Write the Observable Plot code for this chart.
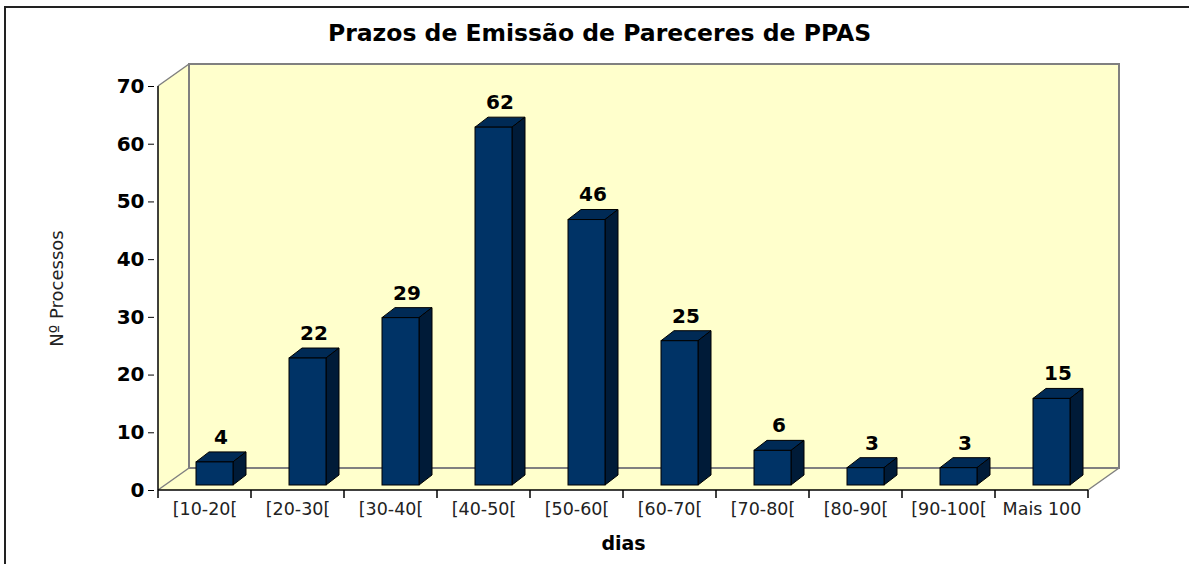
<!DOCTYPE html>
<html>
<head>
<meta charset="utf-8">
<script src="https://cdn.jsdelivr.net/npm/d3@7"></script>
<script src="https://cdn.jsdelivr.net/npm/@observablehq/plot@0.6"></script>
<style>
  html, body { margin: 0; padding: 0; background: #ffffff; }
  #chart svg { display: block; }
</style>
</head>
<body>
<div id="chart"></div>
<script>
const title = "Prazos de Emissão de Pareceres de PPAS";
const yLabel = "Nº Processos";
const xLabel = "dias";
const categories = ["[10-20[", "[20-30[", "[30-40[", "[40-50[", "[50-60[", "[60-70[", "[70-80[", "[80-90[", "[90-100[", "Mais 100"];
const values = [4, 22, 29, 62, 46, 25, 6, 3, 3, 15];
const yTicks = [0, 10, 20, 30, 40, 50, 60, 70];
const yMax = 70;

const data = categories.map((c, i) => ({cat: c, n: values[i]}));

// styling constants
const WALL = "#FFFFCC", EDGE = "#808080";
const FRONT = "#003366", TOP = "#002a55", SIDE = "#001b38";
const WDX = 31, WDY = -22;       // back-wall depth offset (px)
const BDX = 10, BDY = -5;        // bar front-face offset
const DDX = 13, DDY = -10;       // bar depth
const INSET = 28;

function bandInfo(x) {
  return x(categories[1]) - x(categories[0]);
}

function wallsMark(index, scales) {
  const x = scales.x, y = scales.y;
  const bw = bandInfo(x);
  const x0 = x(categories[0]), x1 = x(categories[categories.length - 1]) + bw;
  const y0 = y(0), y1 = y(yMax);
  const g = d3.create("svg:g");
  const pt = (a) => a.map(p => p.join(",")).join(" ");
  g.append("polygon").attr("points", pt([[x0, y1], [x0 + WDX, y1 + WDY], [x0 + WDX, y0 + WDY], [x0, y0]])).attr("fill", WALL);
  g.append("polygon").attr("points", pt([[x0, y0], [x0 + WDX, y0 + WDY], [x1 + WDX, y0 + WDY], [x1, y0]])).attr("fill", WALL);
  g.append("rect").attr("x", x0 + WDX).attr("y", y1 + WDY).attr("width", x1 - x0).attr("height", y0 - y1)
    .attr("fill", WALL).attr("stroke", EDGE).attr("stroke-width", 2);
  const line = (a, b, c) => g.append("line").attr("x1", a[0]).attr("y1", a[1]).attr("x2", b[0]).attr("y2", b[1])
    .attr("stroke", c).attr("stroke-width", 1.5);
  line([x0, y1], [x0 + WDX, y1 + WDY], EDGE);
  line([x0, y0], [x0 + WDX, y0 + WDY], EDGE);
  line([x1, y0], [x1 + WDX, y0 + WDY], EDGE);
  return g.node();
}

function axisLinesMark(index, scales) {
  const x = scales.x, y = scales.y;
  const bw = bandInfo(x);
  const x0 = x(categories[0]), x1 = x(categories[categories.length - 1]) + bw;
  const y0 = y(0), y1 = y(yMax);
  const g = d3.create("svg:g").attr("stroke", "black").attr("stroke-width", 1.5);
  g.append("line").attr("x1", x0).attr("x2", x0).attr("y1", y1).attr("y2", y0);
  g.append("line").attr("x1", x0).attr("x2", x1).attr("y1", y0).attr("y2", y0);
  for (let i = 0; i <= categories.length; i++) {
    const xx = x0 + i * bw;
    g.append("line").attr("x1", xx).attr("x2", xx).attr("y1", y0).attr("y2", y0 + 8);
  }
  return g.node();
}

function barSidesMark(index, scales) {
  const x = scales.x, y = scales.y;
  const bw = bandInfo(x);
  const g = d3.create("svg:g").attr("stroke", "black").attr("stroke-width", 1).attr("stroke-linejoin", "round");
  const pt = (a) => a.map(p => p.join(",")).join(" ");
  for (const d of data) {
    const xl = x(d.cat) + INSET + BDX, xr = x(d.cat) + bw - INSET + BDX;
    const yt = y(d.n) + BDY, yb = y(0) + BDY;
    g.append("polygon").attr("points", pt([[xl, yt], [xl + DDX, yt + DDY], [xr + DDX, yt + DDY], [xr, yt]])).attr("fill", TOP);
    g.append("polygon").attr("points", pt([[xr, yt], [xr + DDX, yt + DDY], [xr + DDX, yb + DDY], [xr, yb]])).attr("fill", SIDE);
  }
  return g.node();
}

function borderMark(index, scales, values, dims) {
  const g = d3.create("svg:g").attr("stroke", "#222").attr("stroke-width", 2).attr("fill", "none");
  g.append("path").attr("d", `M5,${dims.height} V7 H${dims.width}`);
  return g.node();
}

const chart = Plot.plot({
  width: 1189,
  height: 564,
  marginLeft: 154,
  marginRight: 97,
  marginTop: 86,
  marginBottom: 74,
  style: {fontFamily: "'DejaVu Sans', Verdana, sans-serif", background: "white", color: "black"},
  x: {type: "band", domain: categories, paddingInner: 0, paddingOuter: 0, label: null},
  y: {domain: [0, yMax], label: null},
  marks: [
    wallsMark,
    Plot.axisY({ticks: yTicks, tickSize: 6, tickPadding: 4, fontSize: 20, fontWeight: "bold", label: null}),
    Plot.axisX({tickSize: 0, tickPadding: 12, fontSize: 17.5, label: null, fill: "#222"}),
    axisLinesMark,
    barSidesMark,
    Plot.barY(data, {x: "cat", y: "n", fill: FRONT, stroke: "black", strokeWidth: 1, insetLeft: INSET, insetRight: INSET, dx: BDX, dy: BDY}),
    Plot.text(data, {x: "cat", y: "n", text: d => String(d.n), dx: 16, dy: -30, fontSize: 20, fontWeight: "bold", fill: "black"}),
    Plot.text([title], {text: d => d, frameAnchor: "top", lineAnchor: "middle", dx: -24, dy: -53, fontSize: 23.5, fontWeight: "bold", fill: "black"}),
    Plot.text([yLabel], {text: d => d, frameAnchor: "left", textAnchor: "middle", lineAnchor: "middle", dx: -97, rotate: -90, fontSize: 18, fill: "#222"}),
    Plot.text([xLabel], {text: d => d, frameAnchor: "bottom", lineAnchor: "middle", dy: 53, fontSize: 19, fontWeight: "bold", fill: "black"}),
    borderMark
  ]
});
document.getElementById("chart").appendChild(chart);
</script>
</body>
</html>
